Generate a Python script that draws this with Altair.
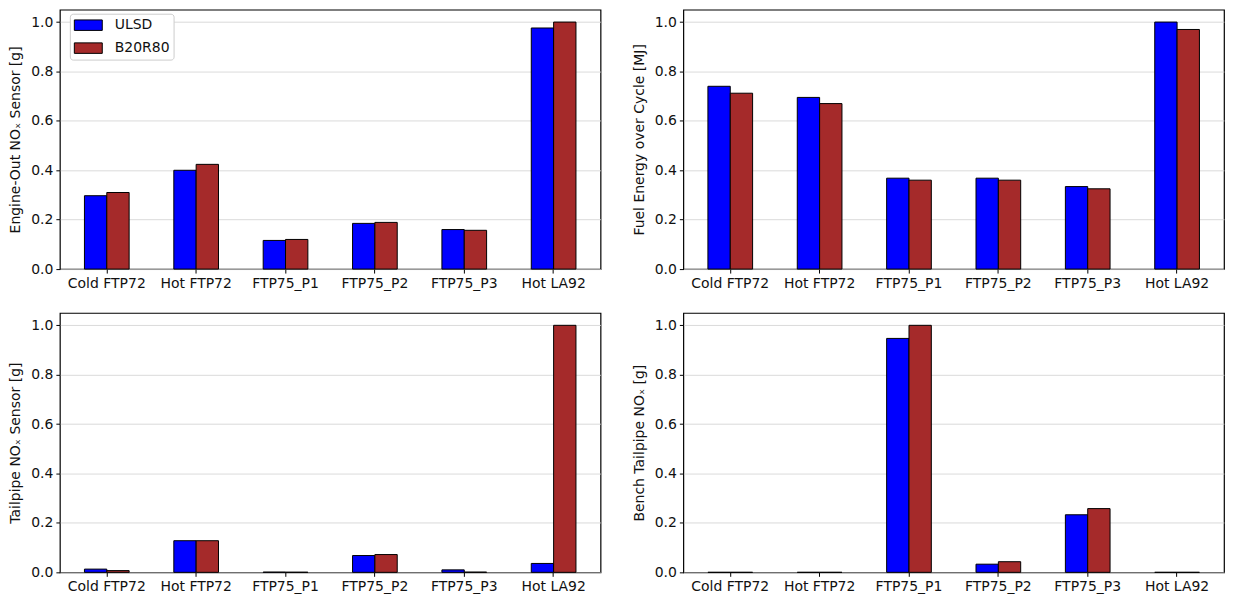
import altair as alt
import pandas as pd

cycles = ["Cold FTP72", "Hot FTP72", "FTP75_P1", "FTP75_P2", "FTP75_P3", "Hot LA92"]
fuels = ["ULSD", "B20R80"]
fuel_colors = ["#0000ff", "#a52a2a"]

engine_out_ulsd = [0.297, 0.400, 0.116, 0.185, 0.160, 0.976]
engine_out_b20 = [0.310, 0.424, 0.120, 0.189, 0.157, 1.000]
fuel_energy_ulsd = [0.740, 0.695, 0.368, 0.368, 0.334, 1.000]
fuel_energy_b20 = [0.712, 0.670, 0.360, 0.360, 0.325, 0.970]
tailpipe_ulsd = [0.013, 0.128, 0.001, 0.068, 0.010, 0.036]
tailpipe_b20 = [0.007, 0.128, 0.0005, 0.072, 0.001, 1.000]
bench_ulsd = [0.0, 0.0, 0.947, 0.033, 0.233, 0.0]
bench_b20 = [0.0, 0.0, 1.000, 0.043, 0.258, 0.0]

titles = [
    "Engine-Out NOₓ Sensor [g]",
    "Fuel Energy over Cycle [MJ]",
    "Tailpipe NOₓ Sensor [g]",
    "Bench Tailpipe NOₓ [g]",
]

FONT = "DejaVu Sans"
TXT = "#111111"
FS = 14


def panel(ulsd, b20, title, show_legend=False):
    df = pd.DataFrame({
        "cycle": cycles * 2,
        "fuel": [fuels[0]] * len(cycles) + [fuels[1]] * len(cycles),
        "value": ulsd + b20,
    })
    if show_legend:
        legend = alt.Legend(
            title=None, orient="none", legendX=10, legendY=4,
            symbolType="M-2,-0.75H2V0.75H-2Z", symbolSize=196,
            symbolOffset=7,
            symbolStrokeColor="black", symbolStrokeWidth=1,
            labelFont=FONT, labelFontSize=FS, labelColor=TXT, labelOffset=19,
            rowPadding=8, padding=4, strokeColor="#cccccc", cornerRadius=3,
            fillColor="white",
        )
    else:
        legend = None
    return alt.Chart(df).mark_bar(stroke="black", strokeWidth=1).encode(
        x=alt.X("cycle:N", sort=cycles,
                scale=alt.Scale(paddingInner=0.5, paddingOuter=0.275),
                axis=alt.Axis(title=None, labelAngle=0, labelFont=FONT, labelFontSize=FS,
                              labelColor=TXT, tickColor="black", tickSize=4, labelPadding=3,
                              domain=False, grid=False)),
        xOffset=alt.XOffset("fuel:N", sort=fuels,
                            scale=alt.Scale(paddingInner=0, paddingOuter=0)),
        y=alt.Y("value:Q", scale=alt.Scale(domain=[0, 1.05], nice=False),
                axis=alt.Axis(title=title, values=[0, 0.2, 0.4, 0.6, 0.8, 1.0], format=".1f",
                              labelFont=FONT, labelFontSize=FS, labelColor=TXT,
                              titleFont=FONT, titleFontSize=FS, titleFontWeight="normal",
                              titleColor=TXT, titlePadding=8,
                              tickColor="black", tickSize=4, labelPadding=3, domain=False,
                              grid=True, gridColor="#d0d0d0", gridWidth=0.8)),
        color=alt.Color("fuel:N", scale=alt.Scale(domain=fuels, range=fuel_colors),
                        legend=legend),
    ).properties(width=542, height=260)


p1 = panel(engine_out_ulsd, engine_out_b20, titles[0], True)
p2 = panel(fuel_energy_ulsd, fuel_energy_b20, titles[1])
p3 = panel(tailpipe_ulsd, tailpipe_b20, titles[2])
p4 = panel(bench_ulsd, bench_b20, titles[3])

chart = alt.vconcat(
    alt.hconcat(p1, p2, spacing=30),
    alt.hconcat(p3, p4, spacing=30),
    spacing=21,
).resolve_legend(color="independent").properties(
    padding=0, background="white"
).configure_view(stroke="black", strokeWidth=1.2)

chart.save("out.html", embed_options={"renderer": "svg", "actions": False})
